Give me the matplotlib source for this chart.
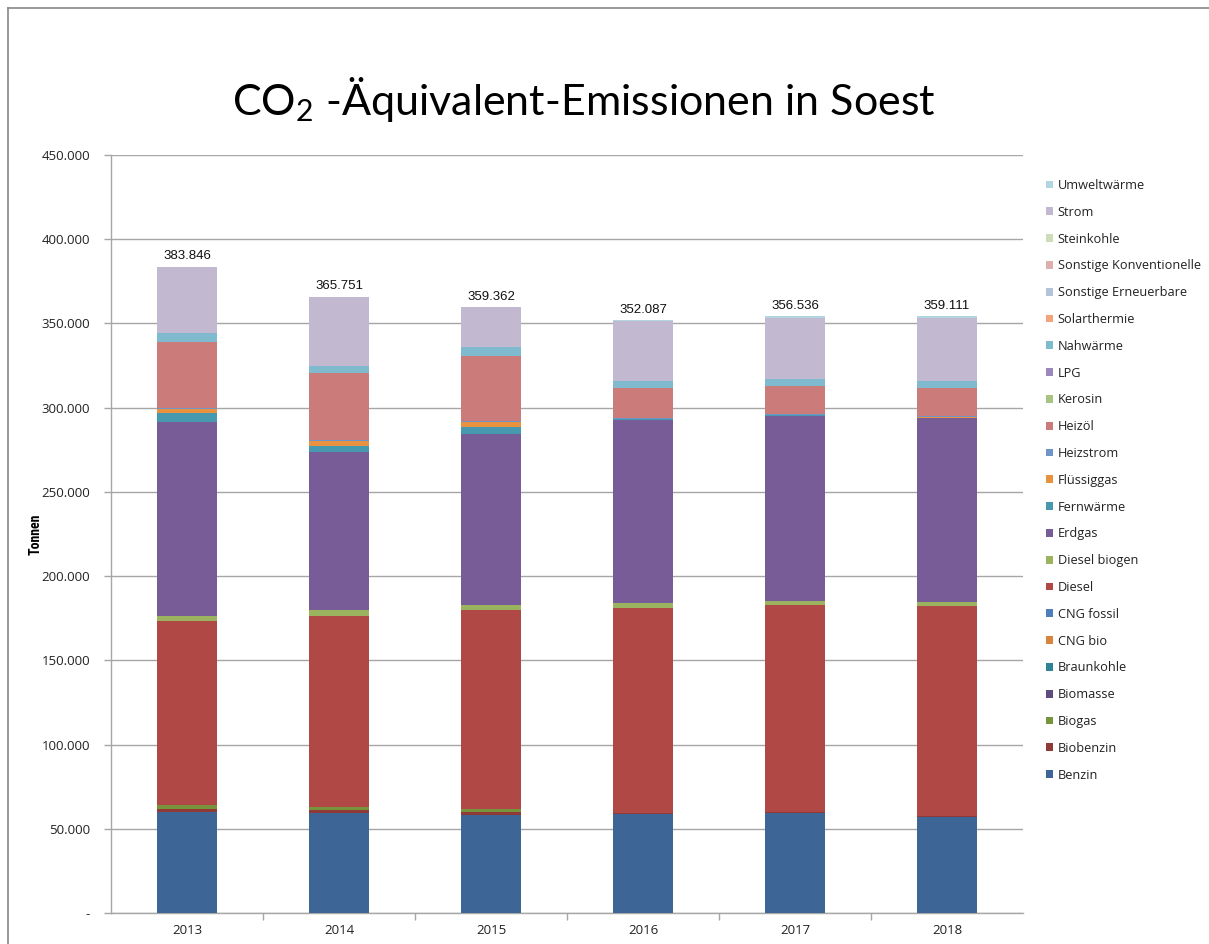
import matplotlib
matplotlib.use("Agg")
import matplotlib.pyplot as plt
from matplotlib.lines import Line2D
from matplotlib.ticker import FuncFormatter
import numpy as np

plt.rcParams['font.family'] = ['Open Sans', 'DejaVu Sans']
plt.rcParams['mathtext.fontset'] = 'custom'
plt.rcParams['mathtext.rm'] = 'Lato'
plt.rcParams['mathtext.it'] = 'Lato'

years = ["2013", "2014", "2015", "2016", "2017", "2018"]
total_labels = ["383.846", "365.751", "359.362", "352.087", "356.536", "359.111"]

# values in tonnes (stack order bottom -> top)
benzin        = [59800, 59600, 58200, 58500, 59300, 56900]
biobenzin     = [2000, 1600, 1600, 700, 700, 700]
biogas        = [2200, 1800, 1800, 0, 0, 0]
biomasse      = [0, 0, 0, 0, 0, 0]
braunkohle    = [0, 0, 0, 0, 0, 0]
cng_bio       = [0, 0, 0, 0, 0, 0]
cng_fossil    = [0, 0, 0, 0, 0, 0]
diesel        = [109400, 113500, 118300, 122100, 122700, 124700]
diesel_biogen = [3100, 3100, 3000, 2600, 2600, 2600]
erdgas        = [114900, 94000, 101400, 108900, 109800, 108800]
fernwaerme    = [5300, 3800, 4500, 400, 400, 400]
fluessiggas   = [2400, 2800, 2800, 200, 200, 200]
heizstrom     = [600, 400, 400, 500, 500, 500]
heizoel       = [39000, 39700, 38700, 17800, 16800, 16800]
kerosin       = [0, 0, 0, 0, 0, 0]
lpg           = [0, 0, 0, 0, 0, 0]
nahwaerme     = [5500, 4400, 5300, 4400, 4000, 4400]
solarthermie  = [0, 0, 0, 0, 0, 0]
sonst_ern     = [0, 0, 0, 0, 0, 0]
sonst_konv    = [0, 0, 0, 0, 0, 0]
steinkohle    = [0, 0, 0, 0, 0, 0]
strom         = [39300, 40900, 23500, 35500, 36500, 37500]
umweltwaerme  = [300, 300, 300, 300, 1000, 1000]

series = [
    ("Benzin", benzin, "#3D6595"),
    ("Biobenzin", biobenzin, "#8F3A37"),
    ("Biogas", biogas, "#77933C"),
    ("Biomasse", biomasse, "#5F4B7E"),
    ("Braunkohle", braunkohle, "#2E8494"),
    ("CNG bio", cng_bio, "#D9843C"),
    ("CNG fossil", cng_fossil, "#4F7FBB"),
    ("Diesel", diesel, "#B04945"),
    ("Diesel biogen", diesel_biogen, "#9BB25E"),
    ("Erdgas", erdgas, "#775C98"),
    ("Fernwärme", fernwaerme, "#4699AE"),
    ("Flüssiggas", fluessiggas, "#E8913E"),
    ("Heizstrom", heizstrom, "#7094C8"),
    ("Heizöl", heizoel, "#CB7B79"),
    ("Kerosin", kerosin, "#A9C481"),
    ("LPG", lpg, "#9C88BC"),
    ("Nahwärme", nahwaerme, "#7FBACE"),
    ("Solarthermie", solarthermie, "#F5A37A"),
    ("Sonstige Erneuerbare", sonst_ern, "#B4C3DA"),
    ("Sonstige Konventionelle", sonst_konv, "#DDB0B0"),
    ("Steinkohle", steinkohle, "#CEDDB8"),
    ("Strom", strom, "#C2B9D0"),
    ("Umweltwärme", umweltwaerme, "#B2D5E2"),
]

fig = plt.figure(figsize=(12.09, 9.44), dpi=100)
W, H = 1209, 944
ax = fig.add_axes([111 / W, (H - 913) / H, 912 / W, 758 / H])

x = np.arange(len(years))
bottom = np.zeros(len(years))
handles = []
for name, vals, col in series:
    v = np.array(vals, dtype=float)
    b = ax.bar(x, v, 0.4, bottom=bottom, color=col, label=name, linewidth=0, zorder=3)
    handles.append(b)
    bottom += v

for xi, tot, lab in zip(x, bottom, total_labels):
    ax.annotate(lab, (xi, tot), xytext=(0, 3), textcoords="offset points",
                ha="center", va="bottom", fontsize=9.5, family="Liberation Sans",
                color="#111111")

ax.set_xlim(-0.5, len(years) - 0.5)
ax.set_ylim(0, 450000)
ax.set_yticks(np.arange(0, 450001, 50000))

def fmt(v, pos):
    if v == 0:
        return "-"
    return f"{int(v):,}".replace(",", ".")

ax.yaxis.set_major_formatter(FuncFormatter(fmt))
ax.set_xticks(x)
ax.set_xticklabels(years)
ax.set_xticks(np.arange(0.5, len(years) - 0.5, 1), minor=True)
ax.tick_params(axis="x", which="major", length=0, pad=8, labelsize=9.5, labelcolor="#222222")
ax.tick_params(axis="x", which="minor", length=5, color="#A6A6A6", width=1)
ax.tick_params(axis="y", which="major", length=5, color="#A6A6A6", width=1, labelsize=9.5,
               pad=10, labelcolor="#222222")

ax.grid(axis="y", color="#A6A6A6", linewidth=1, zorder=0)
for s in ["top", "right"]:
    ax.spines[s].set_visible(False)
for s in ["left", "bottom"]:
    ax.spines[s].set_color("#A6A6A6")
    ax.spines[s].set_linewidth(1)

ax.set_ylabel("Tonnen", fontsize=10, fontweight="bold", family="Roboto Condensed")
ax.yaxis.set_label_coords(-68 / 912, 0.5)

fig.text(584 / W, 1 - 100 / H, r"CO$_{2}$ -Äquivalent-Emissionen in Soest",
         ha="center", va="center", fontsize=31, family="Lato", color="#000000")

leg = fig.legend(handles[::-1], [s[0] for s in series][::-1], loc="upper left",
                 bbox_to_anchor=(1046 / W, 1 - 179 / H), frameon=False,
                 fontsize=9.2, labelspacing=1.08, handlelength=0.55, handleheight=0.55,
                 handletextpad=0.35, borderaxespad=0, borderpad=0)
for t in leg.get_texts():
    t.set_color("#222222")

# outer chart frame
fig.add_artist(Line2D([8 / W, 8 / W], [0, 1 - 8 / H], color="#888888", linewidth=1.2))
fig.add_artist(Line2D([8 / W, 1], [1 - 8 / H, 1 - 8 / H], color="#888888", linewidth=1.2))

fig.savefig("out.png", dpi=100)
